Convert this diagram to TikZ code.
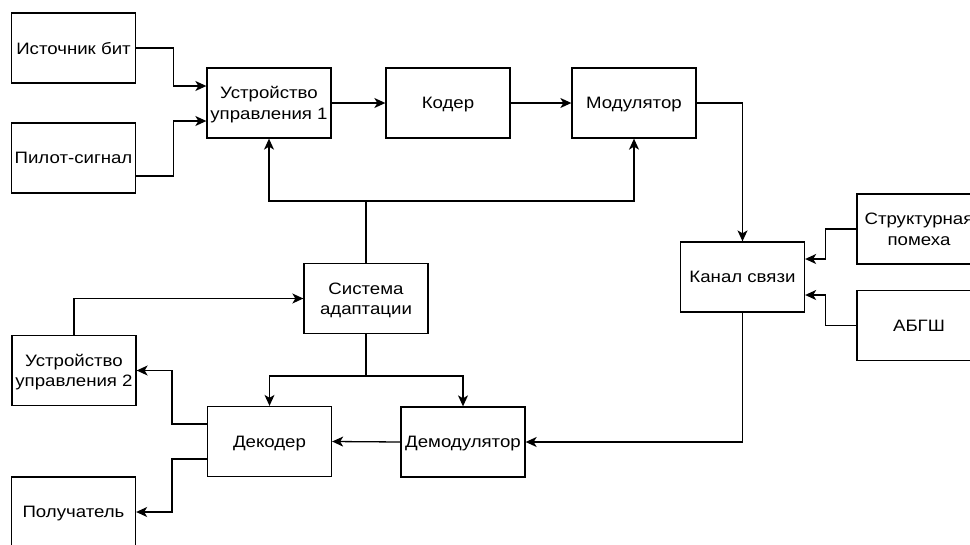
\documentclass[tikz,border=0pt]{standalone}
\usepackage{fontspec}
\setmainfont{Liberation Sans}[FakeStretch=1.13]
\usetikzlibrary{arrows.meta,calc}
\begin{document}
\begin{tikzpicture}[x=1pt,y=-1pt,
  blk/.style={draw, line width=1.3pt, minimum width=124pt, minimum height=70pt, inner sep=1pt, text depth=0pt, align=center, font=\fontsize{16.5}{20.5}\selectfont},
  arr/.style={line width=1.3pt, -{Stealth[length=11pt,width=10pt,inset=3pt]}},
  ln/.style={line width=1.3pt}]
\useasboundingbox (0,0) rectangle (970,544);
\node[blk] (src) at (73.5,48) {Источник бит};
\node[blk] (pilot) at (73.5,158) {Пилот-сигнал};
\node[blk] (uu1) at (269,103) {Устройство\\управления 1};
\node[blk] (coder) at (448,103) {Кодер};
\node[blk] (mod) at (634,103) {Модулятор};
\node[blk] (chan) at (742.5,277) {Канал связи};
\node[blk] (struct) at (919,229) {Структурная\\помеха};
\node[blk] (awgn) at (919,325.5) {АБГШ};
\node[blk] (sys) at (366,298.5) {Система\\адаптации};
\node[blk] (uu2) at (74,370.5) {Устройство\\управления 2};
\node[blk] (dec) at (269.5,441.5) {Декодер};
\node[blk] (demod) at (463,442) {Демодулятор};
\node[blk] (recv) at (73.5,512) {Получатель};
\coordinate (top) at (366,201);
\coordinate (bot) at (366,376);
\draw[arr] (src.east) -- ++(37,0) |- ([yshift=17pt]uu1.west);
\draw[arr] ([yshift=-18pt]pilot.east) -- ++(37,0) |- ([yshift=-18pt]uu1.west);
\draw[arr] (uu1.east) -- (coder.west);
\draw[arr] (coder.east) -- (mod.west);
\draw[arr] (mod.east) -| (chan.north);
\draw[arr] (struct.west) -- ++(-31,0) |- ([yshift=18pt]chan.east);
\draw[arr] (awgn.west) -- ++(-31,0) |- ([yshift=-18pt]chan.east);
\draw[arr] (chan.south) |- (demod.east);
\draw[arr] (demod.west) -- (dec.east);
\draw[ln] (sys.north) -- (top);
\draw[arr] (top) -| (uu1.south);
\draw[arr] (top) -| (mod.south);
\draw[ln] (sys.south) -- (bot);
\draw[arr] (bot) -| (dec.north);
\draw[arr] (bot) -| (demod.north);
\draw[arr] (uu2.north) |- (sys.west);
\draw[arr] ([yshift=17.5pt]dec.west) -- ++(-35,0) |- (uu2.east);
\draw[arr] ([yshift=-17.5pt]dec.west) -- ++(-35,0) |- (recv.east);
\end{tikzpicture}
\end{document}
